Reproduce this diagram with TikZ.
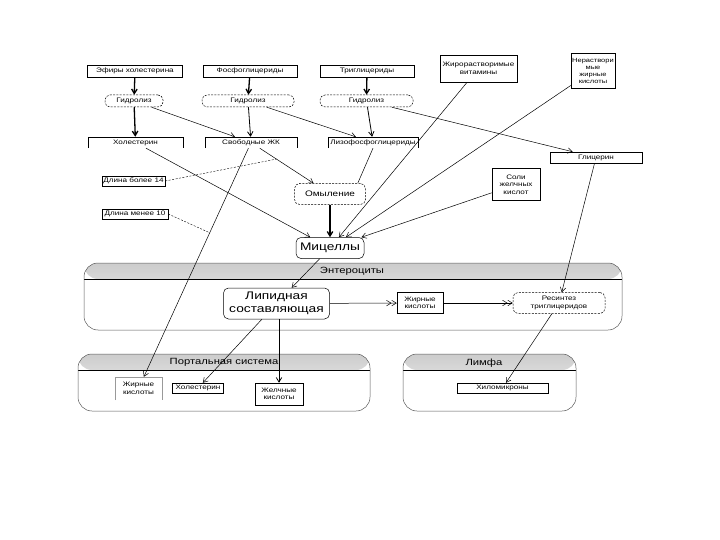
\documentclass[tikz,border=0pt]{standalone}
\usepackage{fontspec}
\setmainfont{Liberation Sans}[FakeStretch=1.25]
\usetikzlibrary{arrows.meta}

\begin{document}
\begin{tikzpicture}[x=1pt,y=-1pt,
  txt/.style={font=\fontsize{6.5}{7.5}\selectfont, inner sep=0pt, align=center},
  box/.style={txt, draw, line width=0.5pt, minimum height=11pt},
  proc/.style={txt, draw, line width=0.5pt, dash pattern=on 2pt off 1.3pt, rounded corners=5pt, minimum height=12pt},
  openbox/.style={txt, minimum height=11pt},
  note/.style={txt, draw, line width=0.5pt, minimum height=10pt},
  big/.style={font=\fontsize{11}{12.5}\selectfont, draw, line width=0.5pt, rounded corners=5pt, inner sep=0pt, align=center},
  hdr/.style={font=\fontsize{9}{10}\selectfont, inner sep=0pt},
  zone/.style={draw=black!65, line width=0.5pt, rounded corners=14pt, inner sep=0pt,
    path picture={
      \shade[top color=black!20, bottom color=black!2] (path picture bounding box.north west) rectangle ([yshift=-16pt]path picture bounding box.north east);
      \draw[black, line width=0.6pt] ([yshift=-16pt]path picture bounding box.north west) -- ([yshift=-16pt]path picture bounding box.north east);}},
  arr/.style={-{Straight Barb[length=4.5pt,width=5.5pt]}, line width=0.5pt},
  heavy/.style={arr, line width=1.3pt},
  dbl/.style={-{Straight Barb[length=4.5pt,width=5.5pt] Straight Barb[length=4.5pt,width=5.5pt]}, line width=0.5pt},
  link/.style={line width=0.4pt, dash pattern=on 2pt off 1.5pt}
]
\useasboundingbox (0,0) rectangle (720,540);

% containers
\node[zone, minimum width=538pt, minimum height=67pt] (entero) at (353,296.5) {};
\node[zone, minimum width=292pt, minimum height=57pt] (portal) at (224,382.5) {};
\node[zone, minimum width=173pt, minimum height=57pt] (lymph) at (489.5,382.5) {};
\node[hdr] (enterolbl) at (352,271.5) {Энтероциты};
\node[hdr] (portallbl) at (224,362.5) {Портальная система};
\node[hdr] (lymphlbl) at (484,363) {Лимфа};

% top row
\node[box, minimum width=95pt, minimum height=12pt] (efir) at (135,71) {Эфиры холестерина};
\node[box, minimum width=94pt, minimum height=12pt] (fosfo) at (250,71) {Фосфоглицериды};
\node[box, minimum width=94pt, minimum height=12pt] (tri) at (367,71) {Триглицериды};
\node[box, minimum width=77pt, minimum height=27pt] (vit) at (478.5,68.5) {Жирорастворимые\\витамины};
\node[box, minimum width=44pt, minimum height=35pt, font=\fontsize{6}{7}\selectfont] (nerast) at (593,70.5) {Нераствори\\мые\\жирные\\кислоты};

\node[proc, minimum width=58pt] (hyd1) at (134,101) {Гидролиз};
\node[proc, minimum width=92pt] (hyd2) at (248,101) {Гидролиз};
\node[proc, minimum width=93pt] (hyd3) at (366.5,101) {Гидролиз};

\node[openbox, minimum width=95pt] (chol) at (135.5,142.5) {Холестерин};
\node[openbox, minimum width=92pt] (svzhk) at (251,142.5) {Свободные ЖК};
\node[openbox, minimum width=90pt] (lizo) at (373,142.5) {Лизофосфоглицериды};
\draw[line width=0.5pt] (chol.south west) -- (chol.north west) -- (chol.north east) -- (chol.south east);
\draw[line width=0.5pt] (svzhk.south west) -- (svzhk.north west) -- (svzhk.north east) -- (svzhk.south east);
\draw[line width=0.5pt] (lizo.south west) -- (lizo.north west) -- (lizo.north east) -- (lizo.south east);
\node[box, minimum width=92pt] (glic) at (596,157.5) {Глицерин};

\node[note, minimum width=63pt] (dl14) at (133.5,181) {Длина более 14};
\node[note, minimum width=66pt] (dl10) at (135,214) {Длина менее 10};
\node[box, minimum width=48pt, minimum height=32pt] (soli) at (516,184.5) {Соли\\желчных\\кислот};

\node[proc, minimum width=71pt, minimum height=21pt, font=\fontsize{8}{9}\selectfont] (omyl) at (330,194) {Омыление};
\node[big, minimum width=68pt, minimum height=21pt] (mic) at (330,248) {Мицеллы};

% enterocytes
\node[big, minimum width=106pt, minimum height=31pt] (lip) at (276.5,303.5) {Липидная\\составляющая};
\node[box, minimum width=46pt, minimum height=21pt] (ezhk) at (420,303) {Жирные\\кислоты};
\node[proc, minimum width=92pt, minimum height=21pt] (resint) at (559,303) {Ресинтез\\триглицеридов};

% portal system and lymph
\node[openbox, minimum width=47pt, minimum height=23pt] (pzhk) at (138.5,388.5) {Жирные\\кислоты};
\draw[black!40, line width=0.5pt] (pzhk.south west) -- (pzhk.north west) -- (pzhk.north east) -- (pzhk.south east);
\node[box, minimum width=51pt, minimum height=10pt] (pchol) at (198,388) {Холестерин};
\node[box, minimum width=48pt, minimum height=22pt] (pzh) at (279,394) {Желчные\\кислоты};
\node[box, minimum width=91pt, minimum height=10pt] (hilo) at (502.5,388) {Хиломикроны};

% hydrolysis
\draw[heavy] (efir) -- (hyd1);
\draw[heavy] (fosfo) -- (hyd2);
\draw[heavy] (tri) -- (hyd3);
\draw[heavy] (hyd1) -- (chol);
\draw[arr] (hyd1) -- (svzhk);
\draw[arr, line width=0.8pt] (hyd2) -- (svzhk);
\draw[arr] (hyd2) -- (lizo);
\draw[arr, line width=0.8pt] (hyd3) -- (lizo);
\draw[arr] (hyd3) -- (glic);

% micelles
\draw[arr] (chol) -- (mic);
\draw[arr] (svzhk) -- coordinate[pos=0.31] (n14) (omyl);
\draw[arr] (svzhk) -- coordinate[pos=0.37] (n10) (pzhk);
\draw[line width=0.5pt] (lizo.south) -- ([xshift=-8pt]omyl.north east);
\draw[heavy] (omyl) -- (mic);
\draw[arr] (vit) -- (mic);
\draw[arr] (nerast) -- (mic);
\draw[arr] (soli) -- (mic);
\draw[link] (dl14.east) -- (n14);
\draw[link] (dl10.east) -- (n10);

% absorption
\draw[arr] (mic) -- (lip);
\draw[dbl] (lip) -- (ezhk);
\draw[dbl] (ezhk) -- (resint);
\draw[arr] (glic) -- (resint);
\draw[arr] (lip) -- (pchol);
\draw[arr, line width=0.8pt] (pzh.north |- lip.south) -- (pzh.north);
\draw[arr] (resint) -- (hilo);

\end{tikzpicture}
\end{document}
